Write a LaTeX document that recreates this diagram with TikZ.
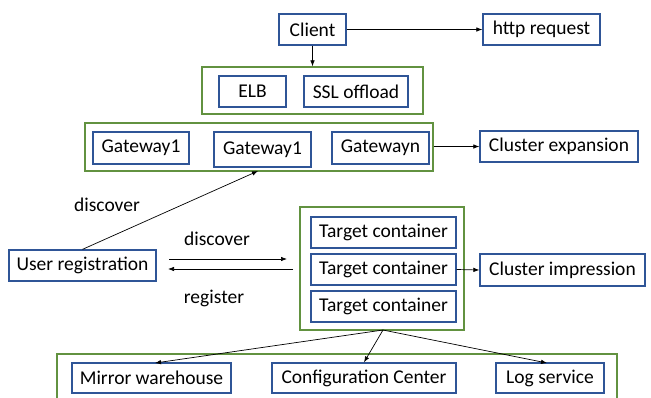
\documentclass[tikz,border=0pt]{standalone}
\usepackage{fontspec}
\setmainfont{Carlito}
\usetikzlibrary{arrows.meta}
\definecolor{boxblue}{RGB}{47,85,151}
\definecolor{grpgreen}{RGB}{98,146,64}
\tikzset{
  bbox/.style={draw=boxblue, line width=1.3pt, fill=white, inner sep=0pt, font=\fontsize{19.5}{22}\selectfont, text=black},
  gbox/.style={draw=grpgreen, line width=1.3pt, inner sep=0pt},
  conn/.style={-{Latex[length=6pt,width=4.5pt]}, line width=0.7pt, black},
  lbl/.style={font=\fontsize{19.5}{22}\selectfont, inner sep=0pt}
}
\begin{document}
\begin{tikzpicture}[x=1pt,y=-1pt]
\useasboundingbox (0,0) rectangle (651,397);
% groups
\node[gbox, minimum width=221pt, minimum height=47pt] (elbgrp) at (312.5,90.5) {};
\node[gbox, minimum width=348pt, minimum height=48pt] (gwgrp) at (259,147) {};
\node[gbox, minimum width=164pt, minimum height=123pt] (tgrp) at (382,268.5) {};
\coordinate (botTL) at (57,354);
\coordinate (botTR) at (617,354);
\draw[draw=grpgreen, line width=1.3pt] (57,399) -- (botTL) -- (botTR) -- (617,399);
% boxes
\node[bbox, minimum width=67pt, minimum height=31pt] (client) at (312.5,29.5) {Client};
\node[bbox, minimum width=117pt, minimum height=31pt] (http) at (541.5,29.5) {http request};
\node[bbox, minimum width=67pt, minimum height=31pt] (elb) at (252.5,91.5) {ELB};
\node[bbox, minimum width=104pt, minimum height=31pt] (ssl) at (356,91.5) {SSL offload};
\node[bbox, minimum width=96pt, minimum height=32pt] (gw1) at (141,148) {Gateway1};
\node[bbox, minimum width=97pt, minimum height=35pt] (gw2) at (262.5,149.5) {Gateway1};
\node[bbox, minimum width=97pt, minimum height=32pt] (gwn) at (380.5,148) {Gatewayn};
\node[bbox, minimum width=158pt, minimum height=31pt] (cexp) at (559,146.5) {Cluster expansion};
\node[bbox, minimum width=147pt, minimum height=31pt] (user) at (82.5,265.5) {User registration};
\node[bbox, minimum width=145pt, minimum height=31pt] (t1) at (383.5,232.5) {Target container};
\node[bbox, minimum width=145pt, minimum height=31pt] (t2) at (383.5,269.5) {Target container};
\node[bbox, minimum width=145pt, minimum height=31pt] (t3) at (383.5,306.5) {Target container};
\node[bbox, minimum width=165pt, minimum height=32pt] (cimp) at (562.5,270) {Cluster impression};
\node[bbox, minimum width=159pt, minimum height=30pt] (mirror) at (151.5,378) {Mirror warehouse};
\node[bbox, minimum width=184pt, minimum height=30pt] (config) at (364,378) {Configuration Center};
\node[bbox, minimum width=108pt, minimum height=30pt] (logs) at (550,378) {Log service};
% labels
\node[lbl] (ldisc1) at (107,205) {discover};
\node[lbl] (ldisc2) at (217,239) {discover};
\node[lbl] (lreg) at (214,298) {register};
% connectors
\draw[conn] (client.south) -- (elbgrp.north);
\draw[conn] (client.east) -- (http.west);
\draw[conn] (gwgrp.east |- cexp.west) -- (cexp.west);
\coordinate (gwin) at (258,171);
\draw[conn] (user.north) -- (gwin);
\coordinate (ua) at (169,259);
\coordinate (ub) at (287,259);
\coordinate (uc) at (293,269);
\coordinate (ud) at (168,269);
\draw[conn] (ua) -- (ub);
\draw[conn] (uc) -- (ud);
\draw[conn] (t2.east) -- (cimp.west);
\coordinate (tb) at (383,330);
\draw[conn] (tb) -- (155,363);
\draw[conn] (tb) -- (config.north);
\draw[conn] (tb) -- (547,363);
\end{tikzpicture}
\end{document}
